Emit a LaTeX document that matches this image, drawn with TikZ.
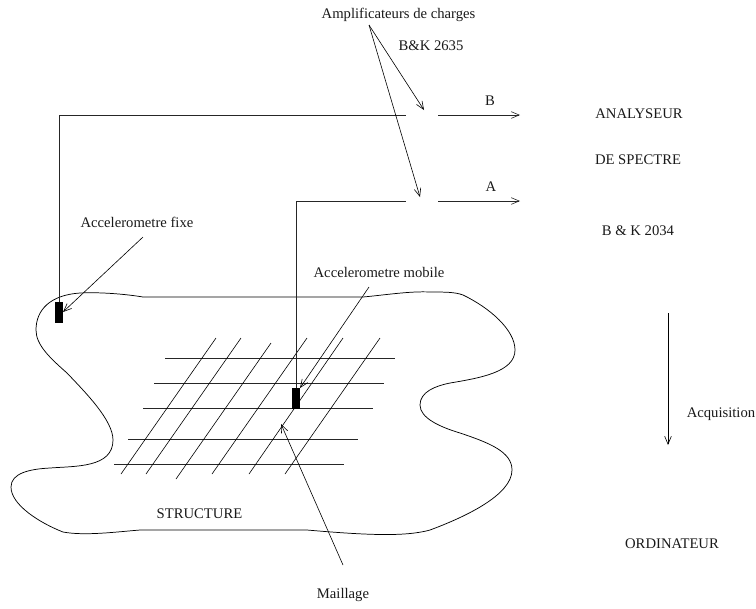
\documentclass[tikz,border=0pt]{standalone}
\usepackage{fontspec}
\setmainfont{Liberation Serif}
\usetikzlibrary{arrows.meta}
\tikzset{
  wire/.style={line width=0.55pt,black!85},
  thin line/.style={line width=0.45pt,black},
  barb/.style={-{Straight Barb[length=6pt,width=5pt,line width=0.45pt]}},
  lab/.style={inner sep=0pt,font=\fontsize{11}{13}\selectfont,anchor=center,text=black!90,yshift=-0.75pt},
  sensor/.style={fill=black,draw=none,inner sep=0pt,minimum width=6pt,minimum height=15.75pt}
}
\begin{document}
\begin{tikzpicture}[x=0.75pt,y=-0.75pt]
\useasboundingbox (0,0) rectangle (756,608);
% structure outline
\draw[thin line,line width=0.55pt] (143,297) -- (363,297)
  .. controls (385,295) and (410,291) .. (430,292)
  .. controls (445,292) and (455,292) .. (463,295)
  .. controls (490,308) and (515,330) .. (515,350)
  .. controls (515,372) and (480,378) .. (450,383)
  .. controls (435,386) and (420,392) .. (420,405)
  .. controls (420,418) and (440,427) .. (460,433)
  .. controls (490,443) and (512,452) .. (512,470)
  .. controls (512,495) and (465,517) .. (430,530)
  .. controls (405,537) and (365,535) .. (307,530)
  -- (140,530)
  .. controls (115,532) and (85,536) .. (63,532)
  .. controls (40,523) and (11,505) .. (11,487)
  .. controls (11,473) and (30,469) .. (50,468)
  .. controls (75,466) and (113,468) .. (113,440)
  .. controls (113,420) and (85,392) .. (67,373)
  .. controls (50,358) and (36,345) .. (36,330)
  .. controls (36,310) and (50,295) .. (80,293)
  .. controls (100,292) and (125,294) .. (143,297) -- cycle;
% mesh
\foreach \xa/\xb/\y in {165/395/358,154/384/383,143/373/408.5,128/358/439,114/344/464}
  \draw[wire] (\xa,\y) -- (\xb,\y);
\foreach \xa/\ya/\xb/\yb in {121/474/216/338,146/474/241/338,176/479/271/343,212/474/307/338,249/474/343/338,285/474/380/338}
  \draw[thin line] (\xa,\ya) -- (\xb,\yb);
% sensors
\node[sensor] (fixe) at (59,312.5) {};
\node[sensor] (mobile) at (296,398.5) {};
% free ends
\coordinate (bend b) at (59,115);
\coordinate (bend a) at (296,201);
\coordinate (amp b in) at (406,115);
\coordinate (amp a in) at (406,201);
\coordinate (amp b out) at (438,115);
\coordinate (amp a out) at (438,201);
\coordinate (sp b) at (520,115);
\coordinate (sp a) at (520,201);
\coordinate (amp b tip) at (424,110);
\coordinate (amp a tip) at (420,197);
\coordinate (fixe tail) at (143,237);
\coordinate (fixe tip) at (63,312);
\coordinate (mobile tail) at (369,287);
\coordinate (mobile tip) at (300,388);
\coordinate (mesh tip) at (281,424);
\coordinate (acq a) at (668,313);
\coordinate (acq b) at (668,445);
\coordinate (apex) at (369,25);
\coordinate (mesh tail) at (343,565);
% wires
\draw[wire] (fixe.north) -- (bend b) -- (amp b in);
\draw[wire] (mobile.north) -- (bend a) -- (amp a in);
\draw[wire,barb] (amp b out) -- (sp b);
\draw[wire,barb] (amp a out) -- (sp a);
% pointers
\draw[thin line,barb] (apex) -- (amp b tip);
\draw[thin line,barb] (apex) -- (amp a tip);
\draw[thin line,barb] (fixe tail) -- (fixe tip);
\draw[thin line,barb] (mobile tail) -- (mobile tip);
\draw[thin line,barb] (mesh tail) -- (mesh tip);
\draw[thin line,barb] (acq a) -- (acq b);
% labels
\node[lab] (t1) at (398.5,14) {Amplificateurs de charges};
\node[lab] (t2) at (431,45) {B\&K 2635};
\node[lab] (t3) at (490,100) {B};
\node[lab] (t4) at (491,186) {A};
\node[lab] (t5) at (639,113) {ANALYSEUR};
\node[lab] (t6) at (638,159) {DE SPECTRE};
\node[lab] (t7) at (638,230) {B \& K 2034};
\node[lab] (t8) at (137,221) {Accelerometre fixe};
\node[lab] (t9) at (379,271) {Accelerometre mobile};
\node[lab] (t10) at (199.5,513) {STRUCTURE};
\node[lab] (t11) at (343,594) {Maillage};
\node[lab] (t12) at (721,413) {Acquisition};
\node[lab] (t13) at (672,543) {ORDINATEUR};
\end{tikzpicture}
\end{document}
